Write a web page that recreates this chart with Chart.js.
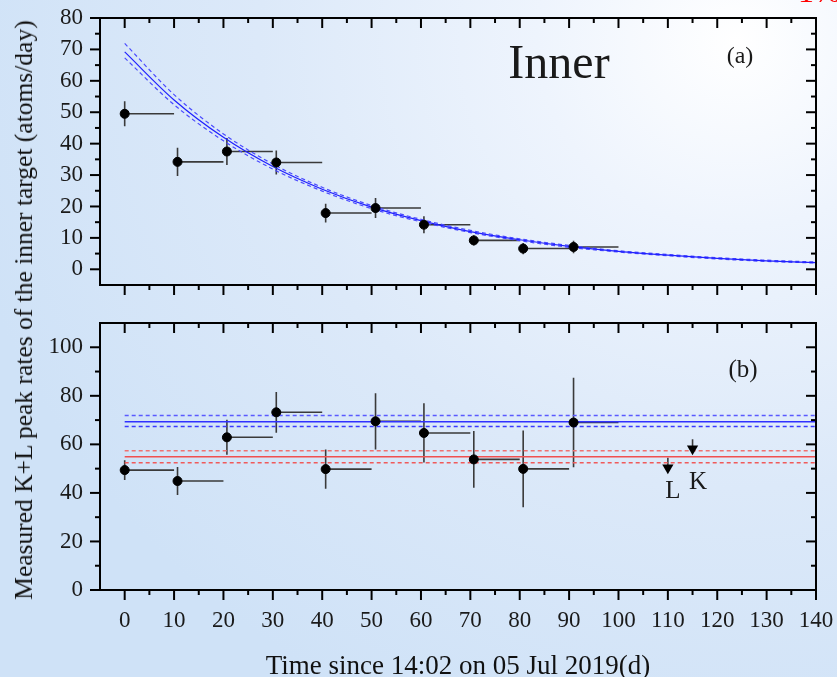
<!DOCTYPE html>
<html>
<head>
<meta charset="utf-8">
<script src="https://cdn.jsdelivr.net/npm/chart.js@4.4.1/dist/chart.umd.min.js"></script>
<style>
html, body { margin: 0; padding: 0; }
body {
    width: 837px; height: 677px; overflow: hidden; position: relative;
    background: radial-gradient(ellipse 95% 110% at 88% 6%, #ffffff 0%, #eef4fd 25%, #dce9f9 60%, #cfe2f7 100%);
    font-family: "Liberation Serif", "Times New Roman", serif;
    color: #111;
}
canvas { position: absolute; left: 0; top: 0; }
.ytitle {
    position: absolute; left: 24px; top: 310px; white-space: nowrap;
    font-size: 25.5px; transform: translate(-50%, -50%) rotate(-90deg);
}
.xtitle {
    position: absolute; left: 458px; top: 665px; white-space: nowrap;
    font-size: 27px; transform: translate(-50%, -50%);
}
.corner {
    position: absolute; left: 798px; top: -25px; font-size: 32px; line-height: 32px;
    color: #ff0000; white-space: nowrap;
}
</style>
</head>
<body>
<canvas id="chartA" width="837" height="677"></canvas>
<canvas id="chartB" width="837" height="677"></canvas>
<div class="ytitle">Measured K+L peak rates of the inner target (atoms/day)</div>
<div class="xtitle">Time since 14:02 on 05 Jul 2019(d)</div>
<div class="corner">1%</div>

<script>
// Measured bins (start of each point and the end of its time bin)
const timeStart = [0, 10.7, 20.7, 30.7, 40.7, 50.8, 60.6, 70.7, 80.7, 90.9];
const binEnd = [10, 20, 30, 40, 50, 60, 70, 80, 90, 100];

// Panel (a): decay of the rate
const rateA = [49.5, 34.2, 37.5, 34.0, 17.9, 19.5, 14.2, 9.2, 6.6, 7.1];
const errA = [4.0, 4.5, 4.3, 3.8, 3.0, 3.2, 2.7, 1.6, 1.8, 2.0];

// Panel (a): fitted curve and its band, every 10 days
const fitT = [0, 10, 20, 30, 40, 50, 60, 70, 80, 90, 100, 110, 120, 130, 140];
const fitMid = [69.2, 53.9, 42.0, 32.7, 25.5, 19.8, 15.5, 12.0, 9.4, 7.3, 5.7, 4.5, 3.5, 2.7, 2.1];
const fitHi = [71.9, 55.6, 43.1, 33.5, 26.1, 20.3, 15.9, 12.4, 9.7, 7.6, 5.9, 4.7, 3.7, 2.9, 2.3];
const fitLo = [67.3, 52.4, 40.9, 31.9, 24.9, 19.3, 15.1, 11.7, 9.1, 7.0, 5.5, 4.3, 3.3, 2.5, 2.0];

// Panel (b): decay-corrected rates
const rateB = [49.4, 44.9, 62.9, 73.2, 49.8, 69.5, 64.7, 53.8, 49.9, 69.0];
const errB = [4.1, 5.8, 7.2, 8.4, 8.1, 11.6, 12.2, 11.7, 15.8, 18.4];

// Panel (b): horizontal reference levels
const levelT = [0, 140];
const blueLevel = [67.4, 69.3, 71.9];   // low, mid, high
const redLevel = [52.4, 54.9, 57.4];

// Panel (b): K and L arrows (line above a down-pointing head)
const markT = [110, 115];
const markRate = [50.4, 58.2];
const markErrUp = [4.1, 3.9];
const markLabel = ['L', 'K'];

// Axes
const xMajor = [0, 10, 20, 30, 40, 50, 60, 70, 80, 90, 100, 110, 120, 130, 140];
const xMinor = [5, 15, 25, 35, 45, 55, 65, 75, 85, 95, 105, 115, 125, 135];
const yMajorA = [0, 10, 20, 30, 40, 50, 60, 70, 80];
const yMinorA = [5, 15, 25, 35, 45, 55, 65, 75];
const yMajorB = [0, 20, 40, 60, 80, 100];
const yMinorB = [10, 30, 50, 70, 90];

const FONT = '"Liberation Serif", "Times New Roman", serif';

function pts(xs, ys) {
    return xs.map((x, i) => ({ x: x, y: ys[i] }));
}

function flat(value) {
    return levelT.map(t => ({ x: t, y: value }));
}

function lineSet(data, color, dashed, width) {
    return {
        data: data,
        borderColor: color,
        borderWidth: width || 1,
        borderDash: dashed ? [4, 3] : [],
        pointRadius: 0,
        fill: false,
        cubicInterpolationMode: 'monotone',
        order: 5
    };
}

// Draws vertical and horizontal error bars under the markers
const errorBarPlugin = {
    id: 'errorBars',
    beforeDatasetsDraw(chart) {
        const { ctx, scales: { x, y } } = chart;
        ctx.save();
        chart.data.datasets.forEach(ds => {
            if (!ds.errY) return;
            ctx.strokeStyle = '#3a3a3a';
            ctx.lineWidth = 1.6;
            ds.data.forEach((p, i) => {
                const px = x.getPixelForValue(p.x);
                const py = y.getPixelForValue(p.y);
                const low = ds.upOnly ? p.y : p.y - ds.errY[i];
                ctx.beginPath();
                ctx.moveTo(px, y.getPixelForValue(p.y + ds.errY[i]));
                ctx.lineTo(px, y.getPixelForValue(low));
                if (ds.xEnd) {
                    ctx.moveTo(px, py);
                    ctx.lineTo(x.getPixelForValue(ds.xEnd[i]), py);
                }
                ctx.stroke();
            });
        });
        ctx.restore();
    }
};

// Frame, mirrored ticks, tick labels and in-plot text
function framePlugin(cfg) {
    return {
        id: 'frame',
        afterDraw(chart) {
            const { ctx, chartArea: a, scales: { x, y } } = chart;
            ctx.save();
            ctx.strokeStyle = '#000';
            ctx.lineWidth = 2;
            const seg = (x1, y1, x2, y2) => {
                ctx.beginPath(); ctx.moveTo(x1, y1); ctx.lineTo(x2, y2); ctx.stroke();
            };
            xMajor.forEach(v => {
                const px = x.getPixelForValue(v);
                seg(px, a.bottom, px, a.bottom + 10);
                seg(px, a.top, px, a.top + 10);
            });
            xMinor.forEach(v => {
                const px = x.getPixelForValue(v);
                seg(px, a.bottom, px, a.bottom + 5);
                seg(px, a.top, px, a.top + 5);
            });
            cfg.yMajor.forEach(v => {
                const py = y.getPixelForValue(v);
                seg(a.left - 10, py, a.left, py);
                seg(a.right - 10, py, a.right, py);
            });
            cfg.yMinor.forEach(v => {
                const py = y.getPixelForValue(v);
                seg(a.left - 5, py, a.left, py);
                seg(a.right - 5, py, a.right, py);
            });
            ctx.strokeRect(a.left, a.top, a.right - a.left, a.bottom - a.top);

            ctx.fillStyle = '#1a1a1a';
            ctx.font = '23px ' + FONT;
            ctx.textAlign = 'right';
            ctx.textBaseline = 'middle';
            cfg.yMajor.forEach(v => {
                ctx.fillText(String(v), a.left - 17, y.getPixelForValue(v));
            });
            if (cfg.xLabels) {
                ctx.textAlign = 'center';
                xMajor.forEach(v => {
                    ctx.fillText(String(v), x.getPixelForValue(v), a.bottom + 31);
                });
            }
            ctx.textBaseline = 'alphabetic';
            ctx.textAlign = 'center';
            cfg.texts.forEach(t => {
                ctx.font = t.size + 'px ' + FONT;
                ctx.fillText(t.text, t.x, t.y);
            });
            ctx.restore();
        }
    };
}

function baseOptions(pad, yMin, yMax) {
    return {
        responsive: false,
        animation: false,
        events: [],
        layout: { padding: pad },
        scales: {
            x: { type: 'linear', min: -5, max: 140, display: false },
            y: { type: 'linear', min: yMin, max: yMax, display: false }
        },
        plugins: { legend: { display: false }, tooltip: { enabled: false } }
    };
}

// Panel (a)
new Chart(document.getElementById('chartA'), {
    type: 'line',
    data: {
        datasets: [
            {
                data: pts(timeStart, rateA),
                errY: errA,
                xEnd: binEnd,
                showLine: false,
                pointRadius: 4.5,
                pointBackgroundColor: '#000',
                pointBorderColor: '#000',
                order: 0
            },
            lineSet(pts(fitT, fitMid), '#2020ff', false, 1.2),
            lineSet(pts(fitT, fitHi), '#4a4aff', true, 1.2),
            lineSet(pts(fitT, fitLo), '#4a4aff', true, 1.2)
        ]
    },
    options: baseOptions({ left: 100, top: 18, right: 21, bottom: 392 }, -5, 80),
    plugins: [errorBarPlugin, framePlugin({
        yMajor: yMajorA, yMinor: yMinorA, xLabels: false,
        texts: [
            { text: 'Inner', x: 559, y: 78, size: 48 },
            { text: '(a)', x: 740, y: 63, size: 24 }
        ]
    })]
});

// Panel (b)
const markerTexts = markLabel.map((l, i) => ({ text: l, x: i === 0 ? 673 : 698, y: i === 0 ? 498 : 489, size: 25 }));

new Chart(document.getElementById('chartB'), {
    type: 'line',
    data: {
        datasets: [
            {
                data: pts(timeStart, rateB),
                errY: errB,
                xEnd: binEnd,
                showLine: false,
                pointRadius: 4.5,
                pointBackgroundColor: '#000',
                pointBorderColor: '#000',
                order: 0
            },
            {
                data: pts(markT, markRate),
                errY: markErrUp,
                upOnly: true,
                showLine: false,
                pointStyle: 'triangle',
                rotation: 180,
                pointRadius: 6.5,
                pointBorderWidth: 0,
                pointBackgroundColor: '#000',
                pointBorderColor: '#000',
                order: 0
            },
            lineSet(flat(blueLevel[1]), '#3030ff', false, 1.5),
            lineSet(flat(blueLevel[0]), '#3a3aff', true, 1.5),
            lineSet(flat(blueLevel[2]), '#5a5aff', true, 1.5),
            lineSet(flat(redLevel[1]), '#f05050', false, 1.5),
            lineSet(flat(redLevel[0]), '#f05a5a', true, 1.5),
            lineSet(flat(redLevel[2]), '#f07070', true, 1.5)
        ]
    },
    options: baseOptions({ left: 100, top: 323, right: 21, bottom: 87 }, 0, 110),
    plugins: [errorBarPlugin, framePlugin({
        yMajor: yMajorB, yMinor: yMinorB, xLabels: true,
        texts: [{ text: '(b)', x: 743, y: 377, size: 25 }].concat(markerTexts)
    })]
});
</script>
</body>
</html>
